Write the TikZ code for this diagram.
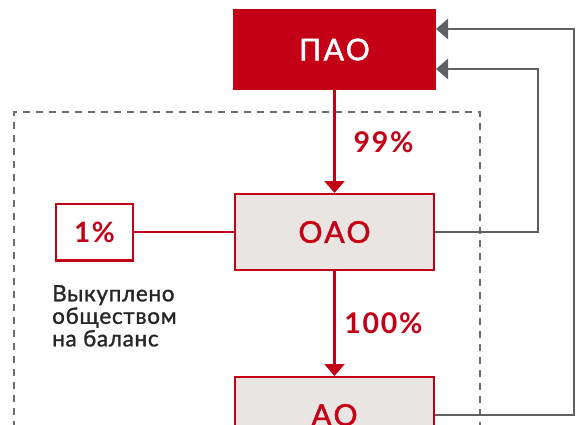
\documentclass[tikz,border=0pt]{standalone}
\usepackage{fontspec}
\setmainfont{Lato}
\newfontfamily\boxfont{Lato}[FakeBold=1.6,LetterSpace=8]
\newfontfamily\pctfont{Lato Bold}[LetterSpace=6]
\newfontfamily\notefont{Lato}[FakeBold=1.3,LetterSpace=3]
\usetikzlibrary{arrows.meta}
\definecolor{cred}{RGB}{196,0,22}
\definecolor{cfill}{RGB}{233,229,227}
\definecolor{cgray}{RGB}{95,96,100}
\definecolor{cdash}{RGB}{110,110,112}
\definecolor{ctext}{RGB}{38,38,40}
\tikzset{
  tip/.style={-{Triangle[length=12pt,width=20pt]}},
  redline/.style={draw=cred,line width=2.2pt},
  grayline/.style={draw=cgray,line width=2.5pt},
  paobox/.style={fill=cred,draw=none,minimum width=203pt,minimum height=81pt,inner sep=0pt,outer sep=0pt,text=white,font=\boxfont\fontsize{30}{30}\selectfont},
  compbox/.style={fill=cfill,draw=cred,line width=2.4pt,minimum width=198.6pt,minimum height=75.6pt,inner sep=0pt,text=cred,font=\boxfont\fontsize{30}{30}\selectfont},
  smallbox/.style={fill=white,draw=cred,line width=2.4pt,minimum width=76.6pt,minimum height=56.6pt,inner sep=0pt,text=cred,font=\pctfont\fontsize{28}{28}\selectfont},
  pctlabel/.style={text=cred,inner sep=0pt,font=\pctfont\fontsize{28.5}{28.5}\selectfont},
  note/.style={text=ctext,inner sep=0pt,align=left,font=\notefont\fontsize{22.5}{22.5}\selectfont},
  frame/.style={draw=cdash,line width=2pt,dash pattern=on 7pt off 6pt}
}
\begin{document}
\begin{tikzpicture}[x=1pt,y=-1pt]
\clip (0,0) rectangle (586,424);
\fill[white] (0,0) rectangle (586,424);
\draw[frame] (14,480) -- (14,112) -- (480,112) -- (480,480);
\node[paobox] (pao) at (334.5,49.5) {ПАО};
\node[compbox] (oao) at (334.5,232) {ОАО};
\node[compbox] (ao) at (334.5,415) {АО};
\node[smallbox] (pct) at (94.5,232) {1\%};
\node[pctlabel] (l99) at (383.5,142) {99\%};
\node[pctlabel] (l100) at (383.5,323) {100\%};
\node[note,anchor=north west] (txt) at (52,285) {Выкуплено\\обществом\\на баланс};
\coordinate (c1) at (538,69);
\coordinate (c2) at (574,29);
\draw[redline,tip] (pao.south) -- (oao.north);
\draw[redline,tip] (oao.south) -- (ao.north);
\draw[redline] (pct.east) -- (oao.west);
\draw[grayline,tip] (oao.east) -| (c1) -- (c1 -| pao.east);
\draw[grayline,tip] (ao.east) -| (c2) -- (c2 -| pao.east);
\end{tikzpicture}
\end{document}
